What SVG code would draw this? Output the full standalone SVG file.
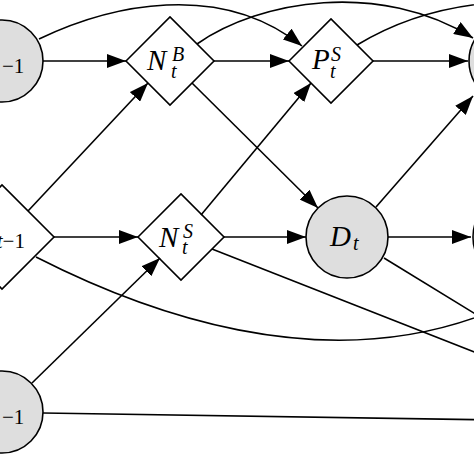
<svg xmlns="http://www.w3.org/2000/svg" width="474" height="474" viewBox="0 0 474 474">
<defs>
<style>
.circ{fill:#dedede;stroke:#000;stroke-width:1.6}
.dia{fill:#fff;stroke:#000;stroke-width:1.6}
.edge{fill:none;stroke:#000;stroke-width:1.6}
.m{font-family:'Liberation Serif',serif;font-style:italic;font-size:29px}
.s{font-family:'Liberation Serif',serif;font-style:italic;font-size:20px}
.n{font-family:'Liberation Serif',serif;font-style:normal;font-size:21px}
</style>
<marker id="ah" markerUnits="userSpaceOnUse" markerWidth="20" markerHeight="14" refX="19" refY="7" orient="auto">
<path d="M0,0 L19,7 L0,14 z" fill="#000"/>
</marker>
</defs>
<rect width="474" height="474" fill="#fff"/>
<g id="nodes">
<g id="tl"><circle class="circ" cx="2" cy="61" r="41"/><text class="n" x="2" y="73">−1</text></g>
<g id="ml"><polygon class="dia" points="-50,237 2,185 54,237 2,289"/><text x="-3" y="248"><tspan class="s" font-size="21">t</tspan><tspan class="n">−1</tspan></text></g>
<g id="bl"><circle class="circ" cx="2" cy="412" r="41"/><text class="n" x="2" y="424">−1</text></g>
<g id="NtB"><polygon class="dia" points="126,61 170,17 214,61 170,105"/><text class="m" x="147" y="70">N<tspan class="s" x="172" y="61">B</tspan><tspan class="s" x="171" y="78">t</tspan></text></g>
<g id="PtS"><polygon class="dia" points="289,61 331,19 373,61 331,103"/><text class="m" x="312" y="69">P<tspan class="s" x="331" y="61">S</tspan><tspan class="s" x="330" y="78">t</tspan></text></g>
<g id="NtS"><polygon class="dia" points="138,237 181,194 224,237 181,280"/><text class="m" x="159" y="247">N<tspan class="s" x="183" y="238">S</tspan><tspan class="s" x="182" y="254">t</tspan></text></g>
<g id="Dt"><circle class="circ" cx="347" cy="237" r="41"/><text class="m" x="330" y="246">D<tspan class="s" x="353" y="250">t</tspan></text></g>
<g id="tr"><circle class="circ" cx="511" cy="61" r="42"/></g>
<g id="mr"><circle class="circ" cx="515" cy="237" r="42"/></g>
</g>
<g id="connectors">
<path class="edge" d="M43,61 L126,61" marker-end="url(#ah)"/>
<path class="edge" d="M214,61 L289,61" marker-end="url(#ah)"/>
<path class="edge" d="M373,61 L468,61" marker-end="url(#ah)"/>
<path class="edge" d="M54,237 L138,237" marker-end="url(#ah)"/>
<path class="edge" d="M224,237 L306,237" marker-end="url(#ah)"/>
<path class="edge" d="M388,237 L471,237" marker-end="url(#ah)"/>
<path class="edge" d="M192,83 L318,208" marker-end="url(#ah)"/>
<path class="edge" d="M28,211 L148,83" marker-end="url(#ah)"/>
<path class="edge" d="M32,383 L160,258" marker-end="url(#ah)"/>
<path class="edge" d="M201,215 L311,83" marker-end="url(#ah)"/>
<path class="edge" d="M376,207 L473,96" marker-end="url(#ah)"/>
<path class="edge" d="M39,39 C110,5 220,-20 302,46" marker-end="url(#ah)"/>
<path class="edge" d="M197,44 C260,0 380,-20 473,38" marker-end="url(#ah)"/>
<path class="edge" d="M357,45 C385,28 430,8 490,3"/>
<path class="edge" d="M36,257 C140,310 320,380 490,312"/>
<path class="edge" d="M212,249 L500,362"/>
<path class="edge" d="M384,258 L500,329"/>
<path class="edge" d="M43,413 L500,420"/>
</g>
</svg>
